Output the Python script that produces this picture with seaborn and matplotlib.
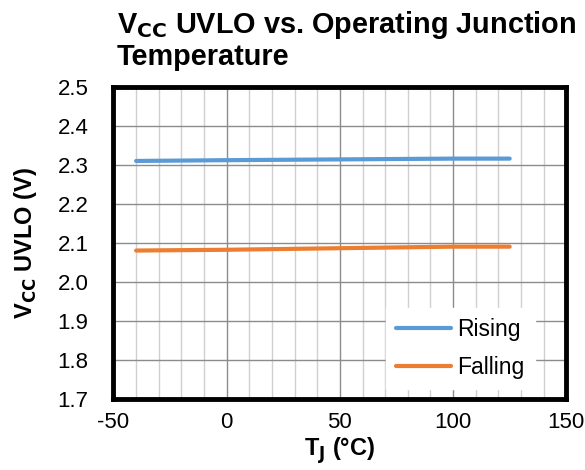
import numpy as np
import pandas as pd
import seaborn as sns
import matplotlib.pyplot as plt
from matplotlib.ticker import MultipleLocator

temp = [-40, 0, 25, 50, 75, 100, 125]
rising = [2.310, 2.312, 2.313, 2.314, 2.315, 2.316, 2.316]
falling = [2.080, 2.082, 2.084, 2.086, 2.088, 2.090, 2.090]

df = pd.DataFrame({
    'temp': temp * 2,
    'uvlo': rising + falling,
    'series': ['Rising'] * len(temp) + ['Falling'] * len(temp),
})

sns.set_style('white')
plt.rcParams['font.family'] = ['Liberation Sans', 'DejaVu Sans']
plt.rcParams['text.color'] = 'black'
plt.rcParams['axes.labelcolor'] = 'black'
plt.rcParams['xtick.color'] = 'black'
plt.rcParams['ytick.color'] = 'black'
plt.rcParams['axes.unicode_minus'] = False

fig, ax = plt.subplots(figsize=(5.85, 4.7), dpi=100)
fig.subplots_adjust(left=0.194, right=0.968, top=0.815, bottom=0.152)

sns.lineplot(data=df, x='temp', y='uvlo', hue='series', ax=ax,
             palette={'Rising': '#5B9BD5', 'Falling': '#ED7D31'}, linewidth=3)

ax.set_xlim(-50, 150)
ax.set_ylim(1.7, 2.5)
ax.xaxis.set_major_locator(MultipleLocator(50))
ax.xaxis.set_minor_locator(MultipleLocator(10))
ax.yaxis.set_major_locator(MultipleLocator(0.1))
ax.yaxis.set_major_formatter(plt.FuncFormatter(lambda v, p: f'{v:.1f}'))
ax.grid(which='major', color='#8c8c8c', linewidth=1)
ax.grid(which='minor', axis='x', color='#d0d0d0', linewidth=1)
ax.set_axisbelow(True)
ax.tick_params(which='both', length=0, labelsize=16)
ax.tick_params(axis='x', pad=10)
ax.tick_params(axis='y', pad=18)

for s in ax.spines.values():
    s.set_visible(True)
    s.set_color('black')
    s.set_linewidth(3.5)

ax.set_xlabel('T$_\\mathbf{J}$ (°C)', fontsize=17, fontweight='bold', labelpad=1)
ax.set_ylabel('V$_\\mathbf{CC}$ UVLO (V)', fontsize=17, fontweight='bold', labelpad=13)
fig.text(0.2, 0.98, 'V$_\\mathbf{CC}$ UVLO vs. Operating Junction\nTemperature',
         fontsize=20.8, fontweight='bold', ha='left', va='top', linespacing=1.05)

leg = ax.legend(loc='lower right', bbox_to_anchor=(0.93, 0.03), frameon=True,
                fontsize=16.5, handlelength=2.4, borderaxespad=0, handletextpad=0.25,
                labelspacing=0.65, borderpad=0.45)
leg.get_frame().set_edgecolor('white')
leg.get_frame().set_facecolor('white')
leg.get_frame().set_alpha(1)
leg.get_frame().set_boxstyle('square', pad=0)
for line in leg.get_lines():
    line.set_linewidth(3)

fig.savefig('out.png', dpi=100)
